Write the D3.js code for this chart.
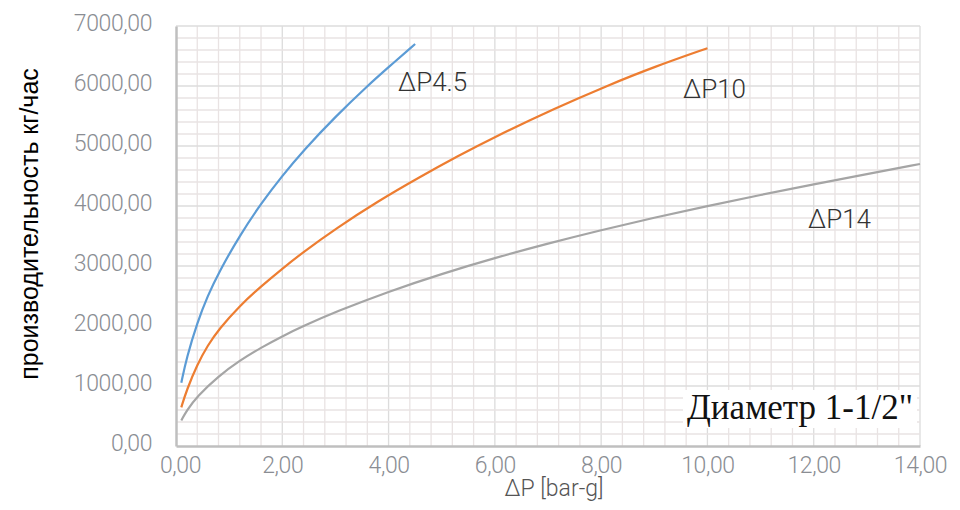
<!DOCTYPE html>
<html><head><meta charset="utf-8">
<script src="https://cdn.jsdelivr.net/npm/d3@7"></script>
<style>body{margin:0;background:#fff}svg{display:block}</style>
</head><body>
<svg id="c" width="960" height="510"></svg>
<script>
const xTicks = [0, 2, 4, 6, 8, 10, 12, 14];
const yTicks = [0, 1000, 2000, 3000, 4000, 5000, 6000, 7000];

const seriesNames = ["ΔP4.5", "ΔP10", "ΔP14"];
const xP45 = [0.1, 0.2, 0.4, 0.6, 0.8, 1.2, 1.6, 2.0, 2.4, 3.0, 3.6, 4.0, 4.5];
const yP45 = [1055, 1470, 2060, 2510, 2885, 3510, 4042, 4505, 4928, 5490, 6000, 6315, 6700];
const xP10 = [0.1, 0.2, 0.4, 0.6, 0.8, 1.2, 1.6, 2.0, 2.4, 3.0, 3.8, 4.59, 5.3, 5.97, 7.16, 8.1, 9.0, 10];
const yP10 = [645, 930, 1360, 1680, 1940, 2340, 2660, 2956, 3236, 3620, 4080, 4485, 4830, 5140, 5640, 6000, 6320, 6630];
const xP14 = [0.1, 0.2, 0.4, 0.8, 1.2, 1.6, 2.0, 2.4, 3.0, 4.0, 5.0, 6.0, 7.0, 8.0, 9.0, 10, 11, 12, 13, 14];
const yP14 = [425, 590, 830, 1165, 1425, 1640, 1830, 2000, 2235, 2575, 2870, 3135, 3375, 3600, 3805, 4000, 4185, 4360, 4530, 4700];

const svg = d3.select("#c");
const x = d3.scaleLinear().domain([0, 14]).range([176, 920]);
const y = d3.scaleLinear().domain([0, 7000]).range([446, 26]);
const fmt = v => d3.format(".2f")(v).replace(".", ",");

// grid
const g = svg.append("g");
d3.range(1, 36).forEach(i => {
  const v = i * 0.4;
  g.append("line").attr("x1", x(v)).attr("x2", x(v)).attr("y1", y(7000)).attr("y2", y(0))
    .attr("stroke", Math.abs(v / 2 - Math.round(v / 2)) < 1e-6 ? "#dcdcdc" : "#e9e3e3").attr("stroke-width", 1.3);
});
d3.range(1, 36).forEach(i => {
  const v = i * 200;
  g.append("line").attr("x1", x(0)).attr("x2", x(14)).attr("y1", y(v)).attr("y2", y(v))
    .attr("stroke", v % 1000 === 0 ? "#dcdcdc" : "#e9e3e3").attr("stroke-width", 1.3);
});

// axes
const xAxis = d3.axisBottom(x).tickValues(xTicks).tickFormat(fmt).tickSize(0).tickPadding(10);
const yAxis = d3.axisLeft(y).tickValues(yTicks).tickFormat(fmt).tickSize(0).tickPadding(24);
const gx = svg.append("g").attr("transform", `translate(0,${y(0)})`).call(xAxis);
const gy = svg.append("g").attr("transform", `translate(${x(0)},0)`).call(yAxis);
[gx, gy].forEach(a => {
  a.select(".domain").attr("stroke", "#bfbfbf").attr("stroke-width", 2.5);
  a.selectAll("text").attr("font-family", "Roboto").attr("font-weight", 300)
    .attr("font-size", 23).attr("letter-spacing", -0.4).attr("fill", "#8a8d93");
});
gy.selectAll("text").attr("dy", "0.18em");
gx.selectAll("text").attr("dy", "0.72em");
gx.selectAll(".tick").filter(d => d === 0).select("text").attr("dx", 4);

// lines
const series = [
  {xs: xP45, ys: yP45, color: "#5b9bd5"},
  {xs: xP10, ys: yP10, color: "#ed7d31"},
  {xs: xP14, ys: yP14, color: "#a5a5a5"}
];
const line = d3.line().x(d => x(d[0])).y(d => y(d[1])).curve(d3.curveBasis);
series.forEach(s => {
  svg.append("path").datum(s.xs.map((v, i) => [v, s.ys[i]]))
    .attr("d", line).attr("fill", "none").attr("stroke", s.color).attr("stroke-width", 2.2);
});

// series labels
const labelPos = [[398, 91], [683, 98], [808, 228]];
seriesNames.forEach((n, i) => {
  svg.append("text").attr("x", labelPos[i][0]).attr("y", labelPos[i][1]).text(n)
    .attr("font-family", "Roboto").attr("font-weight", 300).attr("font-size", 26).attr("fill", "#333");
});

// diameter label
svg.append("rect").attr("x", 683).attr("y", 390).attr("width", 234).attr("height", 38).attr("fill", "#fff");
svg.append("text").attr("x", 687).attr("y", 419).text("Диаметр 1-1/2\"")
  .attr("font-family", "Liberation Serif").attr("font-size", 35).attr("fill", "#111");

// axis titles
svg.append("text").attr("x", 554).attr("y", 496).attr("text-anchor", "middle").text("ΔP [bar-g]")
  .attr("font-family", "Roboto").attr("font-weight", 300).attr("font-size", 23).attr("fill", "#555");
svg.append("text").attr("transform", "translate(38,224) rotate(-90)").attr("text-anchor", "middle")
  .text("производительность кг/час").attr("font-family", "Liberation Sans").attr("font-size", 25).attr("fill", "#000");
</script>
</body></html>
